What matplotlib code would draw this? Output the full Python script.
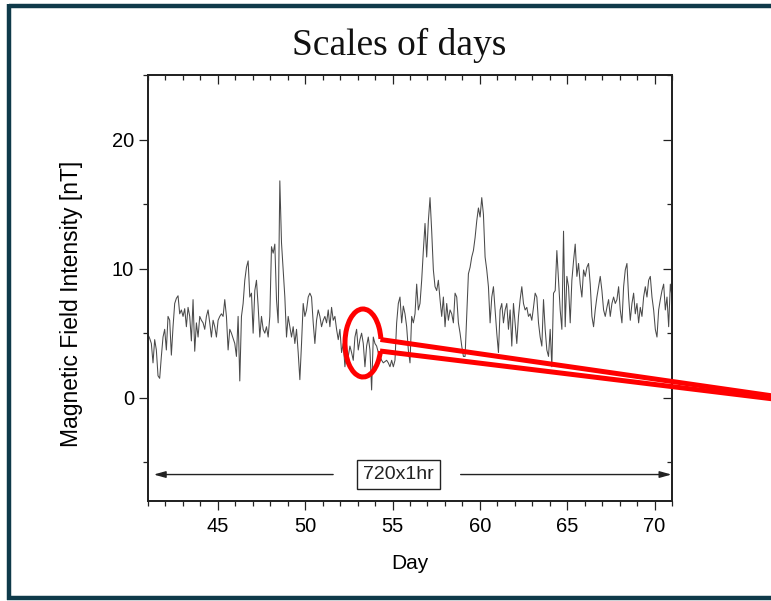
import numpy as np
import matplotlib
matplotlib.use("Agg")
import matplotlib.pyplot as plt
from matplotlib.patches import Arc
from matplotlib.ticker import MultipleLocator

# ---------------- data ----------------
title_text = "Scales of days"
x_label = "Day"
y_label = "Magnetic Field Intensity [nT]"
span_label = "720x1hr"
day_start, day_end = 41.0, 71.0
y_min, y_max = -8.0, 25.0

# magnetic field intensity samples (nT), in time order
field_days_41_47 = [
    4.9, 4.6, 4.2, 2.7, 4.5, 3.7, 1.7, 1.5, 3.2, 4.7,
    5.3, 3.7, 6.3, 6.0, 3.3, 5.5, 7.3, 7.7, 7.9, 6.5,
    6.8, 6.3, 6.9, 5.5, 7.0, 6.3, 4.4, 7.6, 3.6, 5.8,
    4.7, 6.3, 6.0, 5.8, 5.3, 6.3, 6.8, 5.8, 4.7, 6.0,
    5.5, 4.7, 6.0, 6.3, 6.5, 6.3, 7.6, 6.3, 3.7, 5.3,
    5.0, 4.6, 4.2, 3.2, 6.3, 1.3, 6.3, 7.3, 9.1, 10.1,
]
field_days_47_53 = [
    10.6, 7.8, 8.1, 5.0, 8.3, 9.1, 7.1, 4.7, 6.3, 5.3,
    5.0, 5.5, 4.7, 6.3, 11.7, 11.2, 11.9, 7.6, 5.8, 16.8,
    12.0, 9.9, 7.8, 4.7, 6.3, 5.5, 4.7, 5.5, 4.2, 5.3,
    3.5, 1.4, 4.2, 7.3, 6.3, 6.8, 7.8, 8.1, 7.8, 5.8,
    4.2, 6.0, 6.8, 6.3, 5.5, 6.0, 6.3, 5.8, 6.8, 5.5,
    7.0, 6.0, 6.3, 5.3, 4.5, 5.3, 3.5, 4.2, 2.4, 3.7,
    3.2, 4.0,
]
field_days_53_59 = [
    3.5, 2.9, 4.7, 5.3, 3.7, 4.5, 5.0, 4.2, 2.4, 4.0,
    4.7, 3.7, 0.6, 4.7, 4.2, 4.0, 3.5, 3.2, 2.9, 2.7,
    2.8, 2.9, 2.7, 2.4, 2.9, 2.4, 2.9, 5.8, 7.3, 7.8,
    5.8, 7.1, 6.5, 5.5, 3.7, 2.7, 6.3, 5.8, 6.5, 8.8,
    6.8, 7.3, 9.1, 11.4, 13.5, 10.9, 13.7, 15.5, 12.9, 9.9,
    8.6, 8.3, 9.1, 7.6, 6.3, 7.8, 5.5, 7.3, 6.0, 6.8,
    6.5, 5.8,
]
field_days_59_65 = [
    8.1, 7.8, 5.8, 5.0, 4.0, 3.2, 3.2, 6.3, 9.6, 10.1,
    10.9, 11.4, 12.4, 13.7, 14.7, 14.0, 15.5, 14.2, 10.9, 9.9,
    8.6, 5.8, 7.8, 8.6, 6.8, 5.0, 3.5, 6.8, 7.3, 5.8,
    6.8, 7.3, 5.3, 6.8, 4.0, 7.3, 5.8, 4.2, 6.3, 7.6,
    8.6, 7.3, 6.8, 7.0, 6.3, 6.5, 6.0, 7.0, 8.1, 7.8,
    5.8, 4.7, 4.0, 7.6, 5.3, 3.7, 3.2, 5.3, 2.4, 8.1,
    8.3, 11.4,
]
field_days_65_71 = [
    9.1, 6.8, 5.3, 12.9, 5.5, 9.4, 8.6, 5.8, 9.1, 10.6,
    11.9, 9.4, 10.4, 8.8, 7.8, 9.9, 9.4, 10.1, 10.4, 8.8,
    6.3, 5.5, 6.8, 7.8, 8.6, 9.4, 8.3, 6.8, 6.3, 7.0,
    7.6, 6.3, 7.3, 7.8, 7.3, 7.6, 8.6, 6.8, 5.8, 8.6,
    9.9, 10.4, 7.8, 6.0, 7.3, 8.1, 6.5, 7.3, 5.8, 7.0,
    6.3, 7.8, 8.6, 7.8, 9.1, 9.4, 7.8, 6.8, 5.3, 4.7,
    6.8, 7.6, 8.3, 8.8, 6.8, 7.8, 5.5, 8.8, 7.8,
]

field = np.array(field_days_41_47 + field_days_47_53 + field_days_53_59
                 + field_days_59_65 + field_days_65_71)
days = np.linspace(day_start, day_end, len(field))

# span arrow annotation (data coords)
span_y = -5.95
span_left = (41.33, 51.6)
span_right = (58.9, 70.97)
span_text_x = 55.36

# ---------------- figure ----------------
W, H = 771, 601
plt.rcParams['font.family'] = ['Liberation Sans', 'DejaVu Sans']
fig = plt.figure(figsize=(W / 100, H / 100), dpi=100)
fig.patch.set_facecolor('white')

ax = fig.add_axes([148 / W, (H - 501) / H, 524 / W, 426 / H])
ax.plot(days, field, color='#4a4a4a', lw=0.75, zorder=2)
ax.set_xlim(day_start, day_end)
ax.set_ylim(y_min, y_max)

ax.xaxis.set_major_locator(MultipleLocator(5))
ax.xaxis.set_minor_locator(MultipleLocator(1))
ax.yaxis.set_major_locator(MultipleLocator(10))
ax.yaxis.set_minor_locator(MultipleLocator(5))
ax.tick_params(which='major', direction='out', length=6.5, width=0.9,
               labelsize=14.5, color='#222222')
ax.tick_params(which='minor', direction='out', length=3.5, width=0.9, color='#222222')
ax.tick_params(axis='x', pad=5)
ax.tick_params(axis='y', pad=3.5)
for s in ax.spines.values():
    s.set_linewidth(1.1)
    s.set_color('#222222')

# mirrored inward ticks on top and right
axt = ax.twiny()
axt.set_xlim(ax.get_xlim())
axt.xaxis.set_major_locator(MultipleLocator(5))
axt.xaxis.set_minor_locator(MultipleLocator(1))
axt.tick_params(which='major', direction='in', length=6.5, width=0.9, labeltop=False, color='#222222')
axt.tick_params(which='minor', direction='in', length=3.5, width=0.9, color='#222222')
axr = ax.twinx()
axr.set_ylim(ax.get_ylim())
axr.yaxis.set_major_locator(MultipleLocator(10))
axr.yaxis.set_minor_locator(MultipleLocator(5))
axr.tick_params(which='major', direction='in', length=6.5, width=0.9, labelright=False, color='#222222')
axr.tick_params(which='minor', direction='in', length=3.5, width=0.9, color='#222222')
for a in (axt, axr):
    for s in a.spines.values():
        s.set_linewidth(1.1)
        s.set_color('#222222')

ax.set_xlabel(x_label, fontsize=15)
ax.xaxis.set_label_coords(0.5, -0.125)
ax.xaxis.label.set_va('top')
ax.set_ylabel(y_label, fontsize=16.5)
ax.yaxis.set_label_coords(-0.124, 0.462)

# span arrows and box
arrow_style = '-|>,head_length=0.5,head_width=0.14'
ax.annotate('', xy=(span_left[0], span_y), xytext=(span_left[1], span_y),
            arrowprops=dict(arrowstyle=arrow_style, color='#222222', lw=1.0,
                            shrinkA=0, shrinkB=0, mutation_scale=14))
ax.annotate('', xy=(span_right[1], span_y), xytext=(span_right[0], span_y),
            arrowprops=dict(arrowstyle=arrow_style, color='#222222', lw=1.0,
                            shrinkA=0, shrinkB=0, mutation_scale=14))
ax.text(span_text_x, span_y, span_label, fontsize=14, ha='center', va='center',
        color='#222222',
        bbox=dict(boxstyle='square,pad=0.32', fc='white', ec='#222222', lw=1.0))

# ---------------- overlay (slide frame, title, callout) ----------------
ov = fig.add_axes([0, 0, 1, 1], zorder=10)
ov.set_xlim(0, W)
ov.set_ylim(H, 0)
ov.axis('off')
ov.patch.set_alpha(0)

frame_color = '#0f3a4a'
ov.plot([9, W + 5], [6, 6], color=frame_color, lw=3.2, solid_capstyle='butt')
ov.plot([9, 9], [4, 600], color=frame_color, lw=3.2, solid_capstyle='butt')
ov.plot([7, W + 5], [598, 598], color=frame_color, lw=3.2, solid_capstyle='butt')

ov.text(399, 55, title_text, fontsize=27, ha='center', va='baseline',
        family=['Liberation Serif', 'DejaVu Serif'], color='#111111')

# red zoom callout
cx, cy, ew, eh = 363.0, 343.0, 36.0, 68.0
ov.add_patch(Arc((cx, cy), ew, eh, theta1=25, theta2=347, color='#ff0000', lw=3.6))
tip = (905, 415)
ov.plot([380.4, tip[0]], [339.5, tip[1]], color='#ff0000', lw=3.6, solid_capstyle='butt')
ov.plot([380.0, tip[0]], [351.0, tip[1]], color='#ff0000', lw=3.6, solid_capstyle='butt')

fig.savefig('out.png', dpi=100, facecolor='white')
